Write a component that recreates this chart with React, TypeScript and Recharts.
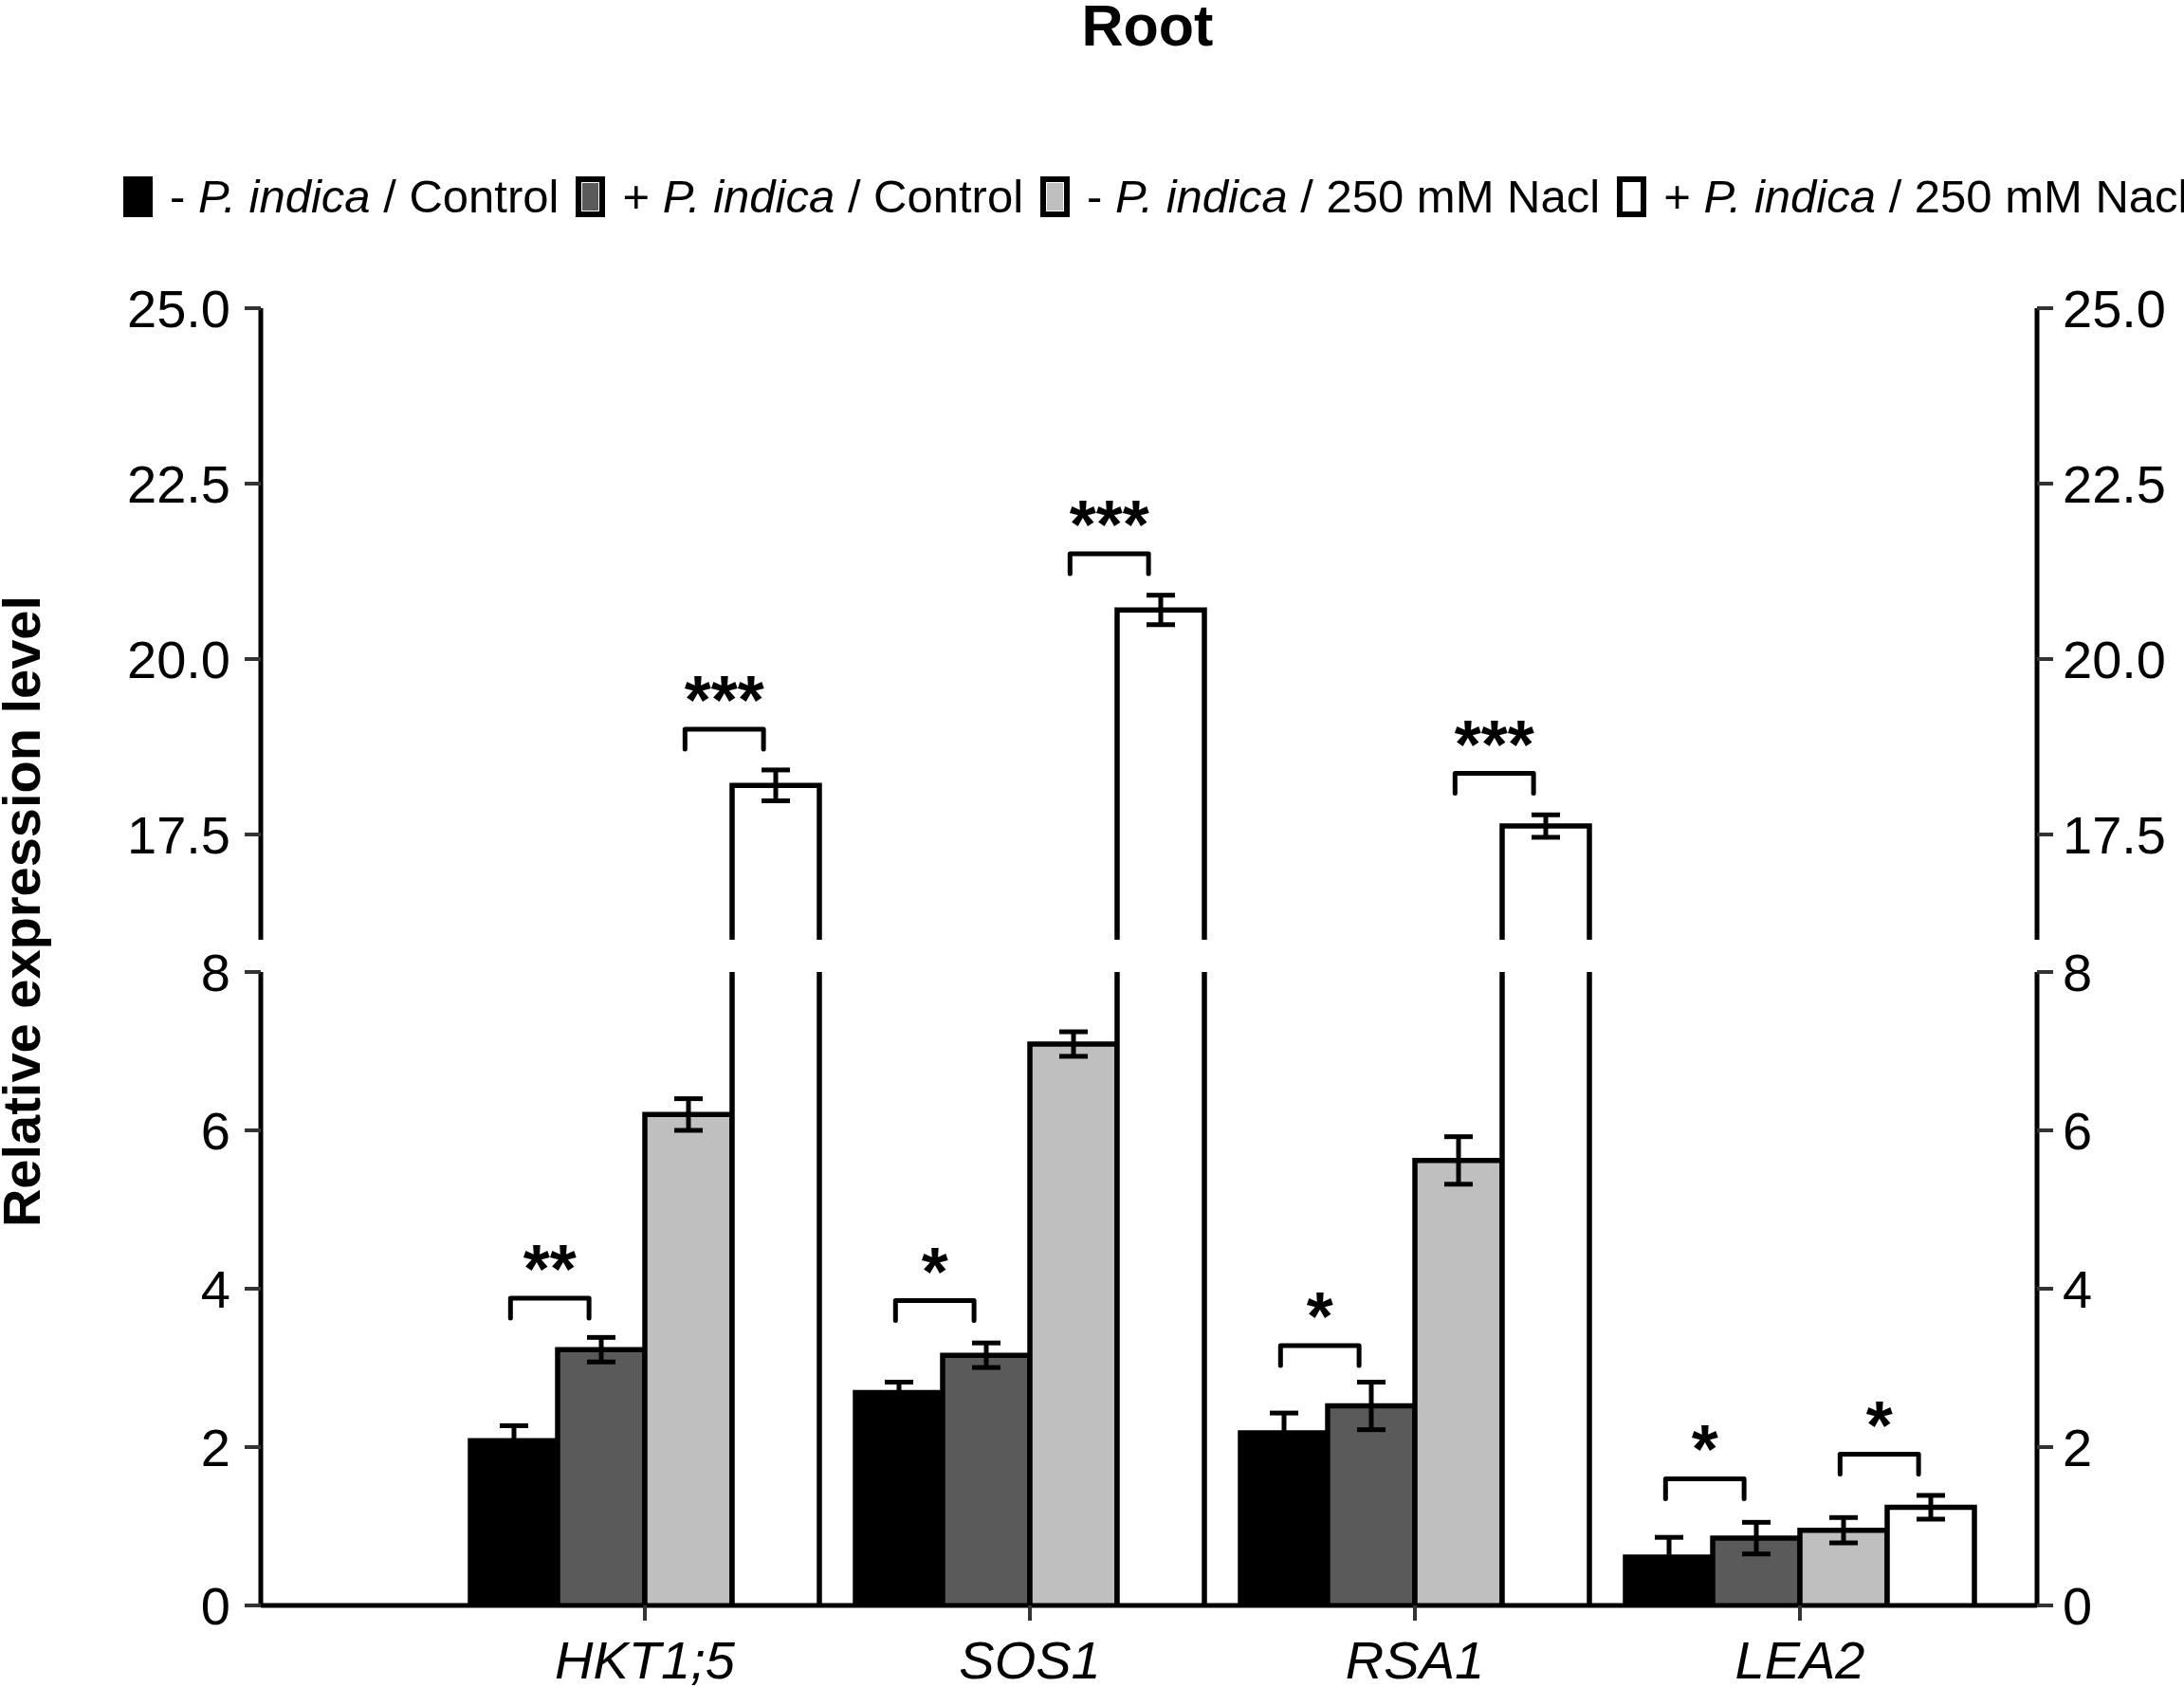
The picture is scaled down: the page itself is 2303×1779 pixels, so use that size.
import { Bar, BarChart, ErrorBar, XAxis, YAxis } from 'recharts';

const FONT = '"Liberation Sans", Arial, Helvetica, sans-serif';

const genes = ['HKT1;5', 'SOS1', 'RSA1', 'LEA2'];

const legendItems = [
  { sign: '-', treatment: 'Control' },
  { sign: '+', treatment: 'Control' },
  { sign: '-', treatment: '250 mM Nacl' },
  { sign: '+', treatment: '250 mM Nacl' },
];
const fills = ['#000000', '#5a5a5a', '#bfbfbf', '#ffffff'];

// relative expression, mean and SE per gene
const minusControl = [2.08, 2.69, 2.18, 0.61];
const minusControlErr = [0.19, 0.13, 0.25, 0.25];
const plusControl = [3.23, 3.16, 2.52, 0.85];
const plusControlErr = [0.155, 0.155, 0.3, 0.2];
const minusSalt = [6.2, 7.09, 5.62, 0.95];
const minusSaltErr = [0.2, 0.155, 0.3, 0.16];
const plusSalt = [18.2, 20.7, 17.62, 1.24];
const plusSaltErr = [0.22, 0.21, 0.16, 0.15];

const upperDomain: [number, number] = [16, 25];
const upperTicks = [17.5, 20, 22.5, 25];
const lowerDomain: [number, number] = [0, 8];
const lowerTicks = [0, 2, 4, 6, 8];

// significance brackets: between series `from` and `to`, bracket top at `y`
const lowerSig = [
  { gene: 'HKT1;5', from: 0, to: 1, y: 3.88, mark: '**' },
  { gene: 'SOS1', from: 0, to: 1, y: 3.85, mark: '*' },
  { gene: 'RSA1', from: 0, to: 1, y: 3.28, mark: '*' },
  { gene: 'LEA2', from: 0, to: 1, y: 1.6, mark: '*' },
  { gene: 'LEA2', from: 2, to: 3, y: 1.91, mark: '*' },
];
const upperSig = [
  { gene: 'HKT1;5', from: 2, to: 3, y: 19.0, mark: '***' },
  { gene: 'SOS1', from: 2, to: 3, y: 21.5, mark: '***' },
  { gene: 'RSA1', from: 2, to: 3, y: 18.37, mark: '***' },
];

const seriesValues = [minusControl, plusControl, minusSalt, plusSalt];
const seriesErrs = [minusControlErr, plusControlErr, minusSaltErr, plusSaltErr];

const lowerRows = genes.map((gene, i) => {
  const row: Record<string, any> = { gene };
  seriesValues.forEach((vals, s) => {
    row[`v${s}`] = vals[i];
    row[`e${s}`] = vals[i] <= lowerDomain[1] ? seriesErrs[s][i] : null;
  });
  return row;
});

const upperRows = genes.map((gene, i) => {
  const row: Record<string, any> = { gene };
  seriesValues.forEach((vals, s) => {
    const inPanel = vals[i] > upperDomain[0];
    row[`v${s}`] = inPanel ? vals[i] : null;
    row[`e${s}`] = inPanel ? seriesErrs[s][i] : null;
  });
  return row;
});

type Sig = { gene: string; from: number; to: number; y: number; mark: string };

// bar with open bottom, plus any significance bracket ending on this series
function makeShape(series: number, sigs: Sig[], base: number) {
  return (props: any) => {
    const { x, y, width, height, payload } = props;
    const value = payload?.[`v${series}`];
    if (value == null || !Number.isFinite(y) || !Number.isFinite(height)) return <g />;
    const bottom = y + height;
    const ppu = height / (value - base);
    const marks = sigs.filter((m) => m.gene === payload.gene && m.to === series);
    return (
      <g>
        <rect x={x} y={y} width={width} height={height} fill={fills[series]} />
        <path
          d={`M${x},${bottom}V${y}H${x + width}V${bottom}`}
          fill="none"
          stroke="#000"
          strokeWidth={5.5}
        />
        {marks.map((m, k) => {
          const left = x - (series - m.from) * width + width * 0.46;
          const right = x + width * 0.36;
          const top = bottom - (m.y - base) * ppu;
          return (
            <g key={k}>
              <path
                d={`M${left},${top + 21}V${top}H${right}V${top + 21}`}
                fill="none"
                stroke="#000"
                strokeWidth={5}
                strokeLinecap="round"
                strokeLinejoin="round"
              />
              <text
                x={(left + right) / 2}
                y={top - 6}
                textAnchor="middle"
                fontSize={72}
                fontWeight="bold"
                fontFamily={FONT}
                fill="#000"
              >
                {m.mark}
              </text>
            </g>
          );
        })}
      </g>
    );
  };
}

const tickStyle = { fontSize: 56, fill: '#000', fontFamily: FONT };
const axisLineStyle = { stroke: '#000', strokeWidth: 5 };
const tickLineStyle = { stroke: '#333', strokeWidth: 4 };
const xPadding = { left: 202, right: 47 };

function Legend() {
  return (
    <div
      style={{
        position: 'absolute',
        left: 130,
        top: 183,
        display: 'flex',
        alignItems: 'center',
        whiteSpace: 'nowrap',
        fontFamily: FONT,
        fontSize: 49,
        lineHeight: 1,
        color: '#000',
      }}
    >
      {legendItems.map((item, i) => (
        <div key={i} style={{ display: 'flex', alignItems: 'center', marginRight: 18, flexShrink: 0 }}>
          <span
            style={{
              display: 'inline-block',
              width: 31,
              height: 43,
              boxSizing: 'border-box',
              border: '6px solid #000',
              background: fills[i],
              boxShadow: i ? 'inset 0 0 0 1px #fff' : 'none',
            }}
          />
          <span style={{ marginLeft: 18 }}>
            {item.sign} <i>P. indica</i> / {item.treatment}
          </span>
        </div>
      ))}
    </div>
  );
}

export default function App() {
  const fmtUpper = (v: number) => v.toFixed(1);
  const fmtLower = (v: number) => String(v);
  return (
    <div
      style={{
        position: 'absolute',
        left: 0,
        top: 0,
        width: 2303,
        height: 1779,
        overflow: 'hidden',
        background: '#fff',
      }}
    >
      <svg width={2303} height={1779} style={{ position: 'absolute', left: 0, top: 0 }}>
        <text x={1210} y={48} textAnchor="middle" fontFamily={FONT} fontWeight="bold" fontSize={61}>
          Root
        </text>
        <text
          transform="translate(42 961) rotate(-90)"
          textAnchor="middle"
          fontFamily={FONT}
          fontWeight="bold"
          fontSize={56}
        >
          Relative expression level
        </text>
      </svg>
      <Legend />

      {/* upper panel of the broken axis */}
      <div style={{ position: 'absolute', left: 0, top: 0, width: 2303, height: 1000 }}>
        <BarChart
          width={2303}
          height={1000}
          data={upperRows}
          margin={{ top: 325, right: 0, bottom: 9, left: 0 }}
          barCategoryGap={19}
          barGap={0}
        >
          <XAxis dataKey="gene" hide height={0} padding={xPadding} />
          <YAxis
            yAxisId="left"
            orientation="left"
            width={275}
            type="number"
            domain={upperDomain}
            allowDataOverflow
            ticks={upperTicks}
            interval={0}
            tickFormatter={fmtUpper}
            tick={tickStyle}
            tickSize={17}
            tickMargin={15}
            axisLine={axisLineStyle}
            tickLine={tickLineStyle}
          />
          <YAxis
            yAxisId="right"
            orientation="right"
            width={155}
            type="number"
            domain={upperDomain}
            allowDataOverflow
            ticks={upperTicks}
            interval={0}
            tickFormatter={fmtUpper}
            tick={tickStyle}
            tickSize={17}
            tickMargin={10}
            axisLine={axisLineStyle}
            tickLine={tickLineStyle}
          />
          {seriesValues.map((_, s) => (
            <Bar
              key={s}
              yAxisId="left"
              dataKey={`v${s}`}
              fill={fills[s]}
              isAnimationActive={false}
              shape={makeShape(s, upperSig, upperDomain[0])}
            >
              <ErrorBar
                dataKey={`e${s}`}
                width={15}
                stroke="#000"
                strokeWidth={5}
                isAnimationActive={false}
              />
            </Bar>
          ))}
        </BarChart>
      </div>

      {/* lower panel of the broken axis */}
      <div style={{ position: 'absolute', left: 0, top: 1000, width: 2303, height: 779, overflow: 'hidden' }}>
        <BarChart
          width={2303}
          height={779}
          data={lowerRows}
          margin={{ top: 25, right: 0, bottom: 0, left: 0 }}
          barCategoryGap={19}
          barGap={0}
        >
          <XAxis
            dataKey="gene"
            height={86}
            padding={xPadding}
            interval={0}
            tick={{ ...tickStyle, fontStyle: 'italic' }}
            tickSize={16}
            tickMargin={21}
            axisLine={axisLineStyle}
            tickLine={tickLineStyle}
          />
          <YAxis
            yAxisId="left"
            orientation="left"
            width={275}
            type="number"
            domain={lowerDomain}
            allowDataOverflow
            ticks={lowerTicks}
            interval={0}
            tickFormatter={fmtLower}
            tick={tickStyle}
            tickSize={17}
            tickMargin={15}
            axisLine={axisLineStyle}
            tickLine={tickLineStyle}
          />
          <YAxis
            yAxisId="right"
            orientation="right"
            width={155}
            type="number"
            domain={lowerDomain}
            allowDataOverflow
            ticks={lowerTicks}
            interval={0}
            tickFormatter={fmtLower}
            tick={tickStyle}
            tickSize={17}
            tickMargin={10}
            axisLine={axisLineStyle}
            tickLine={tickLineStyle}
          />
          {seriesValues.map((_, s) => (
            <Bar
              key={s}
              yAxisId="left"
              dataKey={`v${s}`}
              fill={fills[s]}
              isAnimationActive={false}
              shape={makeShape(s, lowerSig, lowerDomain[0])}
            >
              <ErrorBar
                dataKey={`e${s}`}
                width={15}
                stroke="#000"
                strokeWidth={5}
                isAnimationActive={false}
              />
            </Bar>
          ))}
        </BarChart>
      </div>
    </div>
  );
}
